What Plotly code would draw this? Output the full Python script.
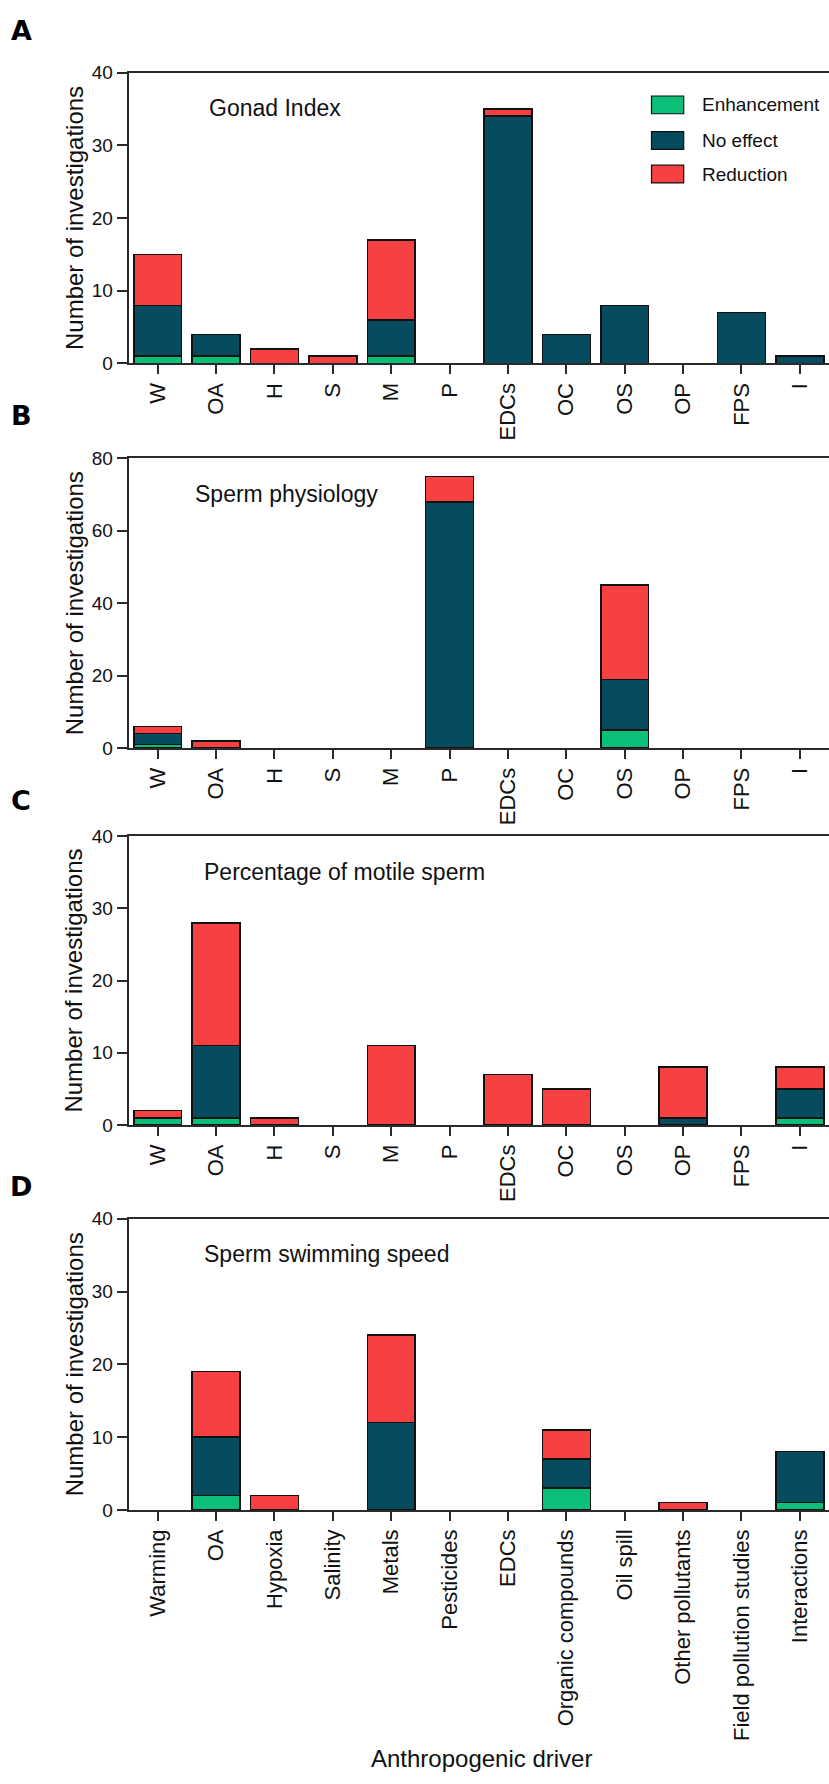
import plotly.graph_objects as go

W, H = 829, 1784

codes = ["W", "OA", "H", "S", "M", "P", "EDCs", "OC", "OS", "OP", "FPS", "I"]
full_names = ["Warming", "OA", "Hypoxia", "Salinity", "Metals", "Pesticides", "EDCs",
              "Organic compounds", "Oil spill", "Other pollutants", "Field pollution studies",
              "Interactions"]

# Panel A: Gonad Index
a_enh = [1, 1, 0, 0, 1, 0, 0, 0, 0, 0, 0, 0]
a_no = [7, 3, 0, 0, 5, 0, 34, 4, 8, 0, 7, 1]
a_red = [7, 0, 2, 1, 11, 0, 1, 0, 0, 0, 0, 0]
# Panel B: Sperm physiology
b_enh = [1, 0, 0, 0, 0, 0, 0, 0, 5, 0, 0, 0]
b_no = [3, 0, 0, 0, 0, 68, 0, 0, 14, 0, 0, 0]
b_red = [2, 2, 0, 0, 0, 7, 0, 0, 26, 0, 0, 0]
# Panel C: Percentage of motile sperm
c_enh = [1, 1, 0, 0, 0, 0, 0, 0, 0, 0, 0, 1]
c_no = [0, 10, 0, 0, 0, 0, 0, 0, 0, 1, 0, 4]
c_red = [1, 17, 1, 0, 11, 0, 7, 5, 0, 7, 0, 3]
# Panel D: Sperm swimming speed
d_enh = [0, 2, 0, 0, 0, 0, 0, 3, 0, 0, 0, 1]
d_no = [0, 8, 0, 0, 12, 0, 0, 4, 0, 0, 0, 7]
d_red = [0, 9, 2, 0, 12, 0, 0, 4, 0, 1, 0, 0]

series_names = ["Enhancement", "No effect", "Reduction"]
colors = ["#0bbf78", "#064c5e", "#f74041"]

panels = [
    dict(letter="A", title="Gonad Index", cats=codes, data=[a_enh, a_no, a_red],
         ymax=40, dtick=10, top=63.3, bot=357.7, letter_y=21, title_x=207, title_y=99.5),
    dict(letter="B", title="Sperm physiology", cats=codes, data=[b_enh, b_no, b_red],
         ymax=80, dtick=20, top=453.7, bot=747.0, letter_y=410, title_x=193, title_y=490),
    dict(letter="C", title="Percentage of motile sperm", cats=codes, data=[c_enh, c_no, c_red],
         ymax=40, dtick=10, top=836.0, bot=1128.3, letter_y=800, title_x=202, title_y=872.7),
    dict(letter="D", title="Sperm swimming speed", cats=full_names, data=[d_enh, d_no, d_red],
         ymax=40, dtick=10, top=1223.1, bot=1517.8, letter_y=1191, title_x=202, title_y=1259),
]

FONT = "Liberation Sans, Arial, sans-serif"
fx = lambda px: px / W
fy = lambda px: 1 - px / H

fig = go.Figure()
annotations = []
shapes = []
layout = {}
x_left = 128.5

for i, p in enumerate(panels):
    n = "" if i == 0 else str(i + 1)
    xa, ya = "x" + n, "y" + n
    for s in range(3):
        vals = [v if v else None for v in p["data"][s]]
        fig.add_trace(go.Bar(
            x=p["cats"], y=vals, name=series_names[s], xaxis=xa, yaxis=ya,
            marker=dict(color=colors[s], line=dict(color="#111111", width=1.5)),
            showlegend=False,
        ))
    layout["xaxis" + n] = dict(
        domain=[fx(x_left), 1], anchor=ya, type="category",
        categoryorder="array", categoryarray=p["cats"], range=[-0.5, 11.5],
        showline=True, linecolor="#2a2a2a", linewidth=1.5, mirror=True,
        ticks="outside", ticklen=9, tickwidth=1.5, tickcolor="#2a2a2a",
        tickangle=-90, tickfont=dict(family=FONT, size=22, color="#111"),
        showgrid=False, zeroline=False,
    )
    layout["yaxis" + n] = dict(
        domain=[fy(p["bot"]), fy(p["top"])], anchor=xa,
        range=[0, p["ymax"]], tick0=0, dtick=p["dtick"],
        showline=True, linecolor="#2a2a2a", linewidth=1.5,
        ticks="outside", ticklen=10, tickwidth=1.5, tickcolor="#2a2a2a",
        tickfont=dict(family=FONT, size=19, color="#111"),
        showgrid=False, zeroline=False,
    )
    annotations.append(dict(
        text="Number of investigations", xref="paper", yref="paper",
        x=fx(74), y=fy((p["top"] + p["bot"]) / 2), textangle=-90,
        showarrow=False, xanchor="center", yanchor="middle",
        font=dict(family=FONT, size=24, color="#111"),
    ))
    annotations.append(dict(
        text=p["title"], xref="paper", yref="paper",
        x=fx(p["title_x"]), y=fy(p["title_y"]), showarrow=False,
        xanchor="left", yanchor="middle",
        font=dict(family=FONT, size=23, color="#111"),
    ))
    annotations.append(dict(
        text="<b>" + p["letter"] + "</b>", xref="paper", yref="paper",
        x=fx(21), y=fy(p["letter_y"]), showarrow=False,
        xanchor="center", yanchor="middle",
        font=dict(family="DejaVu Sans, sans-serif", size=27, color="#000"),
    ))

# Legend (panel A)
leg_rows = [96, 132, 166]
for s in range(3):
    cy = leg_rows[s]
    shapes.append(dict(
        type="rect", xref="paper", yref="paper",
        x0=fx(651.5), x1=fx(683.7), y0=fy(cy + 9), y1=fy(cy - 9),
        fillcolor=colors[s], line=dict(color="#111111", width=1.2),
    ))
    annotations.append(dict(
        text=series_names[s], xref="paper", yref="paper",
        x=fx(700), y=fy(cy), showarrow=False, xanchor="left", yanchor="middle",
        font=dict(family=FONT, size=19, color="#111"),
    ))

annotations.append(dict(
    text="Anthropogenic driver", xref="paper", yref="paper",
    x=fx(481), y=fy(1769), showarrow=False, xanchor="center", yanchor="middle",
    font=dict(family=FONT, size=24, color="#111"),
))

fig.update_layout(
    width=W, height=H, margin=dict(l=0, r=0, t=0, b=0),
    paper_bgcolor="white", plot_bgcolor="white",
    barmode="stack", bargap=0.18,
    annotations=annotations, shapes=shapes, showlegend=False,
    **layout,
)

fig.write_html("out.html")
